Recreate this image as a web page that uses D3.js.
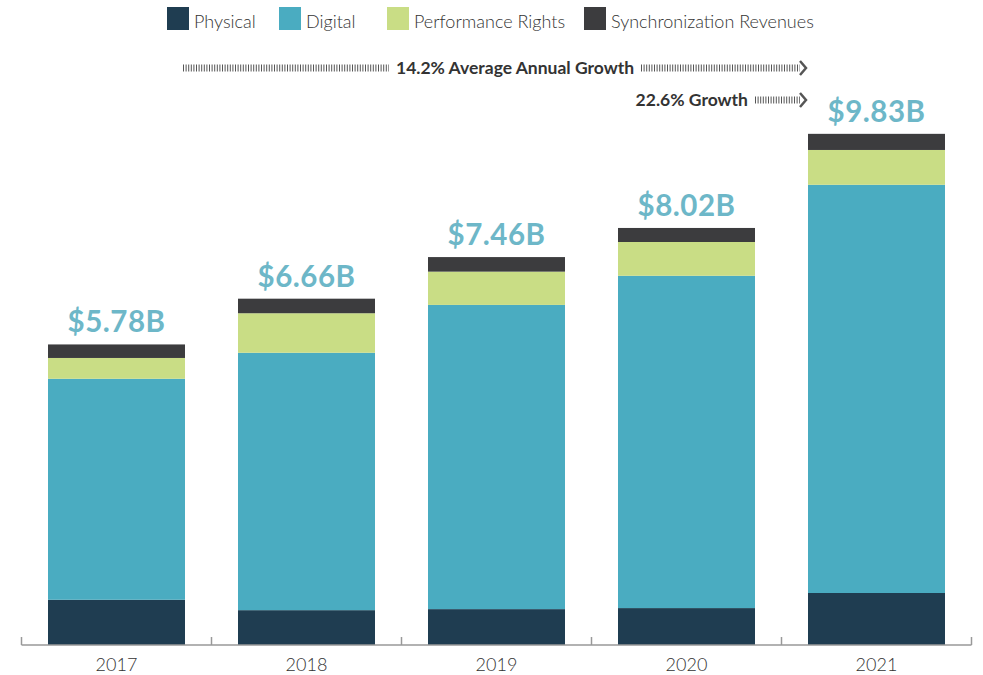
<!DOCTYPE html>
<html>
<head>
<meta charset="utf-8">
<script src="https://cdn.jsdelivr.net/npm/d3@7"></script>
<style>
  html, body { margin: 0; padding: 0; background: #fff; }
  svg { display: block; }
</style>
</head>
<body>
<svg id="chart" width="983" height="675"></svg>
<script>
const years = ["2017", "2018", "2019", "2020", "2021"];
const physical = [0.87, 0.67, 0.69, 0.71, 1.00];
const digital = [4.25, 4.95, 5.85, 6.39, 7.85];
const performanceRights = [0.40, 0.76, 0.64, 0.65, 0.67];
const synchronization = [0.26, 0.28, 0.28, 0.27, 0.31];
const totalLabels = ["$5.78B", "$6.66B", "$7.46B", "$8.02B", "$9.83B"];
const seriesNames = ["Physical", "Digital", "Performance Rights", "Synchronization Revenues"];
const seriesKeys = ["physical", "digital", "performance", "sync"];
const colors = ["#1f3d51", "#4aacc1", "#c9dd85", "#3c3c3e"];
const growthLabels = ["14.2% Average Annual Growth", "22.6% Growth"];

const rows = years.map((yr, i) => ({
  year: yr,
  physical: physical[i],
  digital: digital[i],
  performance: performanceRights[i],
  sync: synchronization[i],
  label: totalLabels[i]
}));

const svg = d3.select("#chart");
const font = "Lato, 'Open Sans', sans-serif";

const x = d3.scaleBand().domain(years).range([21.5, 971.5]).paddingInner(0.279).paddingOuter(0.1395);
const y = d3.scaleLinear().domain([0, 10]).range([645, 125]);

const stacked = d3.stack().keys(seriesKeys)(rows);

svg.append("g").selectAll("g").data(stacked).join("g")
  .attr("fill", (d, i) => colors[i])
  .selectAll("rect").data(d => d).join("rect")
  .attr("x", d => x(d.data.year))
  .attr("width", x.bandwidth())
  .attr("y", d => y(d[1]))
  .attr("height", d => y(d[0]) - y(d[1]));

// total labels
const topLayer = stacked[stacked.length - 1];
svg.append("g").selectAll("text").data(topLayer).join("text")
  .attr("x", d => x(d.data.year) + x.bandwidth() / 2)
  .attr("y", d => y(d[1]) - 12)
  .attr("text-anchor", "middle")
  .attr("font-family", font)
  .attr("font-weight", 700)
  .attr("font-size", 29.5)
  .attr("letter-spacing", 0.5)
  .attr("fill", "#6db7c8")
  .text(d => d.data.label);

// axis
const axisY = y(0);
const axisG = svg.append("g");
axisG.append("line")
  .attr("x1", 21.5).attr("x2", 971.5)
  .attr("y1", axisY).attr("y2", axisY)
  .attr("stroke", "#999").attr("stroke-width", 1.5);
const step = x.step();
const tickXs = d3.range(years.length + 1).map(i => 21.5 + i * step);
axisG.selectAll("line.tick").data(tickXs).join("line")
  .attr("class", "tick")
  .attr("x1", d => d).attr("x2", d => d)
  .attr("y1", axisY - 8).attr("y2", axisY)
  .attr("stroke", "#999").attr("stroke-width", 1.5);
axisG.selectAll("text").data(years).join("text")
  .attr("x", d => x(d) + x.bandwidth() / 2)
  .attr("y", 671)
  .attr("text-anchor", "middle")
  .attr("font-family", font)
  .attr("font-weight", 300)
  .attr("font-size", 18)
  .attr("fill", "#333")
  .text(d => d);

// legend
const legendXs = [167, 279, 387, 584];
const leg = svg.append("g");
seriesNames.forEach((n, i) => {
  leg.append("rect")
    .attr("x", legendXs[i]).attr("y", 7)
    .attr("width", 22).attr("height", 23)
    .attr("fill", colors[i]);
  leg.append("text")
    .attr("x", legendXs[i] + 27).attr("y", 28)
    .attr("font-family", font)
    .attr("font-weight", 300)
    .attr("font-size", 18)
    .attr("fill", "#333")
    .text(n);
});

// growth annotations
const g = svg.append("g");
function hatch(x1, x2, yy) {
  g.append("line")
    .attr("x1", x1).attr("x2", x2).attr("y1", yy).attr("y2", yy)
    .attr("stroke", "#555").attr("stroke-width", 7)
    .attr("stroke-dasharray", "1 1.6");
}
function chevron(xx, yy) {
  g.append("polyline")
    .attr("points", `${xx - 6},${yy - 7} ${xx},${yy} ${xx - 6},${yy + 7}`)
    .attr("fill", "none").attr("stroke", "#555").attr("stroke-width", 2.5);
}
const row1 = 68, row2 = 100;
hatch(183, 389, row1);
g.append("text")
  .attr("x", 396).attr("y", row1 + 6)
  .attr("font-family", font).attr("font-weight", 700).attr("font-size", 17.5)
  .attr("fill", "#333").text(growthLabels[0]);
hatch(641, 800, row1);
chevron(806, row1);
g.append("text")
  .attr("x", 748).attr("y", row2 + 6)
  .attr("text-anchor", "end")
  .attr("font-family", font).attr("font-weight", 700).attr("font-size", 17.5)
  .attr("fill", "#333").text(growthLabels[1]);
hatch(755, 800, row2);
chevron(806, row2);
</script>
</body>
</html>
